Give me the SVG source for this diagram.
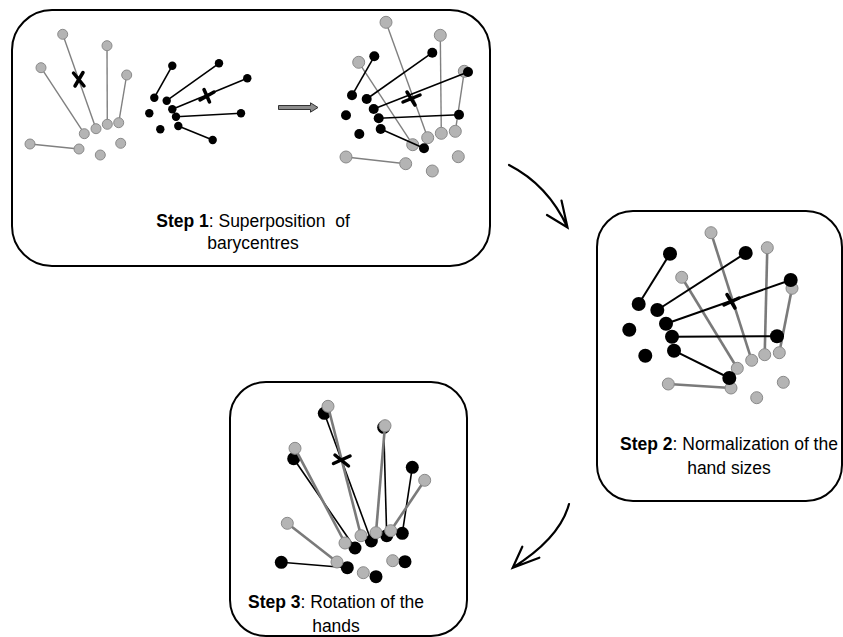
<svg xmlns="http://www.w3.org/2000/svg" width="843" height="637" viewBox="0 0 843 637">
<style>
.box{fill:#fff;stroke:#000;stroke-width:2}
.gl{stroke:#808080;stroke-width:1.4;fill:none}
.gl2{stroke:#7a7a7a;stroke-width:2.6;fill:none}
.bl{stroke:#000;stroke-width:1.6;fill:none}
.bl2{stroke:#000;stroke-width:2;fill:none}
.gc{fill:#b4b4b4;stroke:#8a8a8a;stroke-width:1}
.bc{fill:#000}
.xm{stroke:#000;stroke-width:3.5;stroke-linecap:round;fill:none}
.t{font-family:"Liberation Sans",Arial,sans-serif;font-size:17.5px;fill:#000;text-anchor:middle}
.b{font-weight:bold}
.arr{stroke:#000;stroke-width:2.2;fill:none;stroke-linecap:round}
</style>
<rect width="843" height="637" fill="#fff"/>

<g id="step1">
<rect class="box" x="12" y="10" width="478" height="256" rx="40"/>
<g id="hand1-gray">
<line class="gl" x1="62.7" y1="34.3" x2="96" y2="128.7"/>
<line class="gl" x1="107" y1="45.7" x2="107.3" y2="124.3"/>
<line class="gl" x1="41" y1="67.7" x2="84.3" y2="133.7"/>
<line class="gl" x1="126.7" y1="75" x2="118.7" y2="122.7"/>
<line class="gl" x1="30" y1="144" x2="79" y2="149"/>
<circle class="gc" cx="62.7" cy="34.3" r="5"/>
<circle class="gc" cx="107" cy="45.7" r="5"/>
<circle class="gc" cx="41" cy="67.7" r="5"/>
<circle class="gc" cx="126.7" cy="75" r="5"/>
<circle class="gc" cx="84.3" cy="133.7" r="5"/>
<circle class="gc" cx="96" cy="128.7" r="5"/>
<circle class="gc" cx="107.3" cy="124.3" r="5"/>
<circle class="gc" cx="118.7" cy="122.7" r="5"/>
<circle class="gc" cx="30" cy="144" r="5"/>
<circle class="gc" cx="79" cy="149" r="5"/>
<circle class="gc" cx="120.7" cy="143.3" r="5"/>
<circle class="gc" cx="100.3" cy="155" r="5"/>
<path class="xm" d="M73.5 73 L84 86 M83 72.5 L75 86"/>
</g>
<g id="hand1-black">
<line class="bl" x1="172.3" y1="65.7" x2="154.3" y2="97.7"/>
<line class="bl" x1="219" y1="63.3" x2="166.7" y2="100.7"/>
<line class="bl" x1="247.3" y1="78.3" x2="172.3" y2="109.3"/>
<line class="bl" x1="176" y1="116.7" x2="241" y2="113.3"/>
<line class="bl" x1="178.3" y1="126" x2="212.7" y2="140"/>
<circle class="bc" cx="172.3" cy="65.7" r="4.2"/>
<circle class="bc" cx="219" cy="63.3" r="4.2"/>
<circle class="bc" cx="247.3" cy="78.3" r="4.2"/>
<circle class="bc" cx="154.3" cy="97.7" r="4.2"/>
<circle class="bc" cx="166.7" cy="100.7" r="4.2"/>
<circle class="bc" cx="172.3" cy="109.3" r="4.2"/>
<circle class="bc" cx="149.3" cy="113.3" r="4.2"/>
<circle class="bc" cx="176" cy="116.7" r="4.2"/>
<circle class="bc" cx="241" cy="113.3" r="4.2"/>
<circle class="bc" cx="178.3" cy="126" r="4.2"/>
<circle class="bc" cx="160.3" cy="129.3" r="4.2"/>
<circle class="bc" cx="212.7" cy="140" r="4.2"/>
<path class="xm" d="M200 100 L214 92 M204 89.5 L209.5 102"/>
</g>
<path d="M278.5 105.5 H310.5 V102.8 L318 107.5 L310.5 112.2 V109.5 H278.5 Z" fill="#8c8c8c" stroke="#333" stroke-width="1"/>
<g id="hand1-superposed">
<line class="gl" x1="386" y1="22.3" x2="427.7" y2="137.7"/>
<line class="gl" x1="440.3" y1="35.3" x2="441.3" y2="133.3"/>
<line class="gl" x1="358.7" y1="62.3" x2="412.7" y2="144.7"/>
<line class="gl" x1="464.3" y1="71.3" x2="455.3" y2="131.3"/>
<line class="gl" x1="346" y1="157" x2="405.7" y2="163.7"/>
<circle class="gc" cx="386" cy="22.3" r="6"/>
<circle class="gc" cx="440.3" cy="35.3" r="6"/>
<circle class="gc" cx="358.7" cy="62.3" r="6"/>
<circle class="gc" cx="464.3" cy="71.3" r="6"/>
<circle class="gc" cx="427.7" cy="137.7" r="6"/>
<circle class="gc" cx="441.3" cy="133.3" r="6"/>
<circle class="gc" cx="455.3" cy="131.3" r="6"/>
<circle class="gc" cx="412.7" cy="144.7" r="6"/>
<circle class="gc" cx="346" cy="157" r="6"/>
<circle class="gc" cx="405.7" cy="163.7" r="6"/>
<circle class="gc" cx="458.3" cy="156.7" r="6"/>
<circle class="gc" cx="432.3" cy="171" r="6"/>
<line class="bl" x1="374.3" y1="56.3" x2="352" y2="95.3"/>
<line class="bl" x1="432.3" y1="52.7" x2="366.7" y2="99"/>
<line class="bl" x1="468" y1="72" x2="373.7" y2="109"/>
<line class="bl" x1="378.7" y1="118.3" x2="459" y2="114.7"/>
<line class="bl" x1="380.7" y1="129" x2="424" y2="148.3"/>
<circle class="bc" cx="374.3" cy="56.3" r="5"/>
<circle class="bc" cx="432.3" cy="52.7" r="5"/>
<circle class="bc" cx="468" cy="72" r="5"/>
<circle class="bc" cx="352" cy="95.3" r="5"/>
<circle class="bc" cx="366.7" cy="99" r="5"/>
<circle class="bc" cx="373.7" cy="109" r="5"/>
<circle class="bc" cx="346" cy="115.3" r="5"/>
<circle class="bc" cx="378.7" cy="118.3" r="5"/>
<circle class="bc" cx="459" cy="114.7" r="5"/>
<circle class="bc" cx="380.7" cy="129" r="5"/>
<circle class="bc" cx="359.3" cy="134" r="5"/>
<circle class="bc" cx="424" cy="148.3" r="5"/>
<path class="xm" d="M403 102 L420 95 M407 92 L415 105"/>
</g>
<text class="t" x="253" y="226.5"><tspan class="b">Step 1</tspan>: Superposition&#160; of</text>
<text class="t" x="253" y="249">barycentres</text>
</g>

<g id="step2">
<rect class="box" x="597" y="211" width="245" height="290" rx="36"/>
<line class="gl2" x1="711" y1="232.7" x2="751.7" y2="360.3"/>
<line class="gl2" x1="767.3" y1="247.7" x2="764.7" y2="354.7"/>
<line class="gl2" x1="681.7" y1="277.3" x2="737.3" y2="368.3"/>
<line class="gl2" x1="792" y1="288.3" x2="779.3" y2="352.7"/>
<line class="gl2" x1="668.3" y1="384" x2="731" y2="388"/>
<circle class="gc" cx="711" cy="232.7" r="6"/>
<circle class="gc" cx="767.3" cy="247.7" r="6"/>
<circle class="gc" cx="681.7" cy="277.3" r="6"/>
<circle class="gc" cx="792" cy="288.3" r="6"/>
<circle class="gc" cx="751.7" cy="360.3" r="6"/>
<circle class="gc" cx="764.7" cy="354.7" r="6"/>
<circle class="gc" cx="779.3" cy="352.7" r="6"/>
<circle class="gc" cx="737.3" cy="368.3" r="6"/>
<circle class="gc" cx="668.3" cy="384" r="6"/>
<circle class="gc" cx="731" cy="388" r="6"/>
<circle class="gc" cx="783.3" cy="382.3" r="6"/>
<circle class="gc" cx="756.7" cy="397.7" r="6"/>
<line class="bl2" x1="670" y1="253.7" x2="638.7" y2="304"/>
<line class="bl2" x1="745.7" y1="253" x2="657.3" y2="310"/>
<line class="bl2" x1="790.7" y1="280" x2="666" y2="323.7"/>
<line class="bl2" x1="672" y1="336.7" x2="777" y2="336.3"/>
<line class="bl2" x1="674" y1="350.7" x2="729.3" y2="378"/>
<circle class="bc" cx="670" cy="253.7" r="7"/>
<circle class="bc" cx="745.7" cy="253" r="7"/>
<circle class="bc" cx="790.7" cy="280" r="7"/>
<circle class="bc" cx="638.7" cy="304" r="7"/>
<circle class="bc" cx="657.3" cy="310" r="7"/>
<circle class="bc" cx="666" cy="323.7" r="7"/>
<circle class="bc" cx="629.3" cy="329.7" r="7"/>
<circle class="bc" cx="672" cy="336.7" r="7"/>
<circle class="bc" cx="777" cy="336.3" r="7"/>
<circle class="bc" cx="674" cy="350.7" r="7"/>
<circle class="bc" cx="645.3" cy="355.7" r="7"/>
<circle class="bc" cx="729.3" cy="378" r="7"/>
<path class="xm" d="M724 305 L739 298 M727 294.5 L735 308"/>
<text class="t" x="729" y="450"><tspan class="b">Step 2</tspan>: Normalization of the</text>
<text class="t" x="729" y="473.5">hand sizes</text>
</g>

<g id="step3">
<rect class="box" x="230" y="382" width="237" height="254" rx="36"/>
<line class="bl" x1="324.3" y1="413.3" x2="371.3" y2="541"/>
<line class="bl" x1="383.7" y1="427.3" x2="386.7" y2="535.7"/>
<line class="bl" x1="293.7" y1="458.7" x2="355" y2="548"/>
<line class="bl" x1="412.3" y1="467.3" x2="402.3" y2="533.3"/>
<line class="bl" x1="281.3" y1="562.3" x2="347.3" y2="567.7"/>
<circle class="bc" cx="324.3" cy="413.3" r="6.5"/>
<circle class="bc" cx="383.7" cy="427.3" r="6.5"/>
<circle class="bc" cx="293.7" cy="458.7" r="6.5"/>
<circle class="bc" cx="412.3" cy="467.3" r="6.5"/>
<circle class="bc" cx="355" cy="548" r="6.5"/>
<circle class="bc" cx="371.3" cy="541" r="6.5"/>
<circle class="bc" cx="386.7" cy="535.7" r="6.5"/>
<circle class="bc" cx="402.3" cy="533.3" r="6.5"/>
<circle class="bc" cx="281.3" cy="562.3" r="6.5"/>
<circle class="bc" cx="347.3" cy="567.7" r="6.5"/>
<circle class="bc" cx="405" cy="561.7" r="6.5"/>
<circle class="bc" cx="376" cy="576.7" r="6.5"/>
<line class="gl2" x1="328" y1="406.3" x2="361" y2="535.7"/>
<line class="gl2" x1="385" y1="425.7" x2="376" y2="532.7"/>
<line class="gl2" x1="295" y1="448.3" x2="345" y2="543"/>
<line class="gl2" x1="424.7" y1="480.3" x2="390.7" y2="530.7"/>
<line class="gl2" x1="287.3" y1="523.3" x2="337" y2="562"/>
<circle class="gc" cx="328" cy="406.3" r="6"/>
<circle class="gc" cx="385" cy="425.7" r="6"/>
<circle class="gc" cx="295" cy="448.3" r="6"/>
<circle class="gc" cx="424.7" cy="480.3" r="6"/>
<circle class="gc" cx="287.3" cy="523.3" r="6"/>
<circle class="gc" cx="345" cy="543" r="6"/>
<circle class="gc" cx="361" cy="535.7" r="6"/>
<circle class="gc" cx="376" cy="532.7" r="6"/>
<circle class="gc" cx="390.7" cy="530.7" r="6"/>
<circle class="gc" cx="337" cy="562" r="6"/>
<circle class="gc" cx="392.7" cy="560.7" r="6"/>
<circle class="gc" cx="363.3" cy="572.7" r="6"/>
<path class="xm" d="M335 455 L348.5 466 M333.5 463.5 L350 456"/>
<text class="t" x="336" y="607.5"><tspan class="b">Step 3</tspan>: Rotation of the</text>
<text class="t" x="336" y="631.5">hands</text>
</g>

<g id="connectors">
<path class="arr" d="M509 165 Q548 185 567.5 227.5 M561.5 200.5 L567.5 227.5 L547 215"/>
<path class="arr" d="M569 504 Q560 538 512.7 567.7 M522.3 546.7 L512.7 567.7 L539.3 557.7"/>
</g>
</svg>
